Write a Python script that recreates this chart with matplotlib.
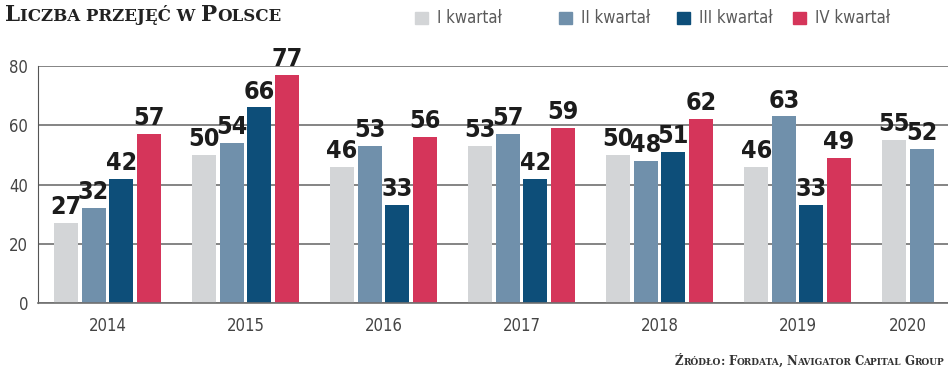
import matplotlib.pyplot as plt
from matplotlib.patches import Rectangle
import numpy as np

YEARS = ["2014", "2015", "2016", "2017", "2018", "2019", "2020"]
SERIES = ["I kwartał", "II kwartał", "III kwartał", "IV kwartał"]
Q1 = [27, 50, 46, 53, 50, 46, 55]
Q2 = [32, 54, 53, 57, 48, 63, 52]
Q3 = [42, 66, 33, 42, 51, 33]
Q4 = [57, 77, 56, 59, 62, 49]
COLORS = ["#d3d5d7", "#7090ab", "#0d4e79", "#d5355a"]

TITLE = "Liczba przejęć w Polsce"
SOURCE = "Źródło: Fordata, Navigator Capital Group"

W, H = 948, 370
COND = dict(family=["Liberation Sans Narrow", "DejaVu Sans"], fontstretch="condensed")


def small_caps(fig, text, x, y, big, small, color, right=False, **kw):
    # fake small caps: capitals at full size, the rest upper-cased smaller
    pieces = []
    for ch in text:
        size = big if ch.isupper() or (not ch.isalpha() and ch != " ") else small
        if pieces and pieces[-1][1] == size:
            pieces[-1][0] += ch.upper()
        else:
            pieces.append([ch.upper(), size])
    r = fig.canvas.get_renderer()
    if right:
        pieces = pieces[::-1]
    cur = x
    for s, size in pieces:
        t = fig.text(cur / W, y / H, s, fontsize=size, color=color,
                     ha="right" if right else "left", va="baseline", **kw)
        bb = t.get_window_extent(renderer=r)
        cur = bb.x0 if right else bb.x1


fig = plt.figure(figsize=(W / 100, H / 100), dpi=100)
ax = fig.add_axes([38 / W, 67 / H, (W - 38) / W, 237 / H])

series = [Q1, Q2, Q3, Q4]
width = 0.174
for j, vals in enumerate(series):
    xs = np.arange(len(vals)) + (j - 1.5) * 0.2
    ax.bar(xs, vals, width, color=COLORS[j], zorder=2)
    for x, v in zip(xs, vals):
        ax.text(x, v + 1.3, str(v), ha="center", va="bottom", fontsize=18,
                weight="bold", color="#1c1c1c", zorder=3, **COND)

# year labels centred under the bars that exist for each year
centers = []
for i in range(len(YEARS)):
    present = [(j - 1.5) * 0.2 for j, vals in enumerate(series) if i < len(vals)]
    centers.append(i + np.mean(present))
ax.set_xticks(centers)
ax.set_xticklabels(YEARS, fontsize=12, color="#444444", **COND)
ax.tick_params(axis="x", length=0, pad=10)

ax.set_ylim(0, 80)
ax.set_yticks([0, 20, 40, 60, 80])
ax.set_yticklabels(["0", "20", "40", "60", "80"], fontsize=12, color="#444444", **COND)
ax.tick_params(axis="y", length=0, pad=7)
ax.set_xlim(-0.503, 6.09)

ax.yaxis.grid(True, color="#6f6f6f", linewidth=1.2)
ax.set_axisbelow(True)
for s in ["top", "right"]:
    ax.spines[s].set_visible(False)
ax.spines["left"].set_color("#555555")
ax.spines["bottom"].set_color("#6f6f6f")
ax.spines["bottom"].set_linewidth(1.2)

# legend along the top
leg_x = [415, 559, 677, 793]
for lx, name, c in zip(leg_x, SERIES, COLORS):
    fig.patches.append(Rectangle((lx / W, (H - 24) / H), 13 / W, 12 / H,
                                 transform=fig.transFigure, color=c))
    fig.text((lx + 22) / W, (H - 18) / H, name, fontsize=12, color="#5a5a5a",
             va="center", ha="left", **COND)

small_caps(fig, TITLE, 5, H - 21, 15.5, 12, "#222222",
           family="DejaVu Serif", weight="bold")
small_caps(fig, SOURCE, 944, 5, 8.5, 6.5, "#333333", right=True,
           family="DejaVu Serif", weight="bold")

fig.savefig("out.png", dpi=100)
